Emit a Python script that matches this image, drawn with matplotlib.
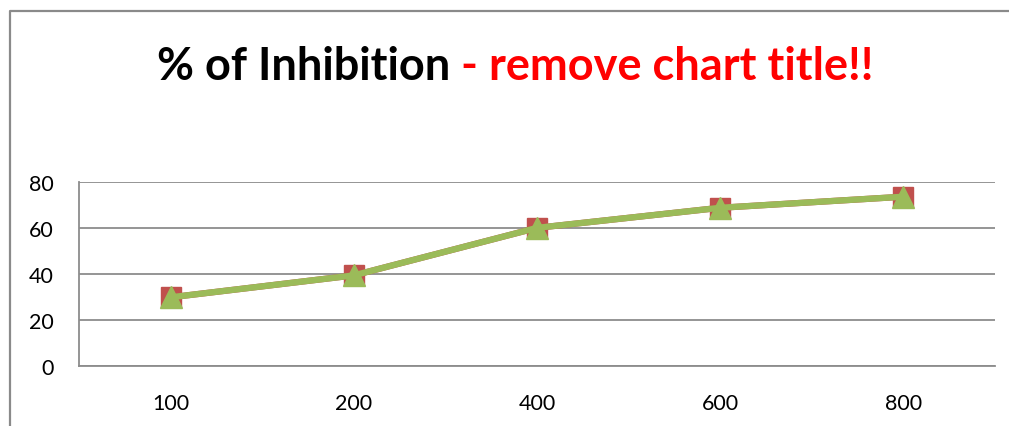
import matplotlib
matplotlib.use("Agg")
import matplotlib.pyplot as plt
from matplotlib.lines import Line2D

# concentration groups and % inhibition for the two series
doses = ["100", "200", "400", "600", "800"]
series_a = [29.9, 39.4, 60.0, 68.7, 73.5]
series_b = [29.9, 39.4, 60.0, 68.7, 73.5]
y_ticks = [0, 20, 40, 60, 80]

title_main = "% of Inhibition"
title_note = " - remove chart title!!"

RED = "#C0504D"
GREEN = "#9BBB59"
GRID = "#8C8C8C"

W, H = 1009, 427
fig = plt.figure(figsize=(W / 100, H / 100), dpi=100)
fig.patch.set_facecolor("white")

# chart frame: only left and top edges fall inside the image
fx, fy = 9.5 / W, (H - 11.7) / H
frame = Line2D([fx, fx, 1.0], [0.0, fy, fy], transform=fig.transFigure,
               color="#8A8A8A", linewidth=1.6, solid_capstyle="butt")
fig.add_artist(frame)

ax = fig.add_axes([79 / W, (H - 367.3) / H, (995 - 79) / W, (367.3 - 182.7) / H])
x = list(range(len(doses)))

ax.plot(x, series_a, color=RED, linewidth=4.5, marker="s", markersize=14,
        markerfacecolor=RED, markeredgecolor=RED, zorder=3)
ax.plot(x, series_b, color=GREEN, linewidth=4.5, marker="^", markersize=16,
        markerfacecolor=GREEN, markeredgecolor=GREEN, zorder=4)

ax.set_xlim(-0.5, len(doses) - 0.5)
ax.set_ylim(0, 80)
ax.set_yticks(y_ticks)
ax.set_xticks(x)
ax.set_xticklabels(doses)
ax.grid(axis="y", color=GRID, linewidth=1.3)
ax.set_axisbelow(True)
for s in ["top", "right"]:
    ax.spines[s].set_visible(False)
for s in ["left", "bottom"]:
    ax.spines[s].set_color(GRID)
    ax.spines[s].set_linewidth(1.3)
ax.tick_params(length=0, labelsize=15.5, colors="black")
ax.tick_params(axis="y", pad=18.5)
ax.tick_params(axis="x", pad=19)
for lab in ax.get_xticklabels() + ax.get_yticklabels():
    lab.set_family("Lato")

# two-colour title, centred as one line
fs = 32.5
t1 = fig.text(0, 0, title_main, fontsize=fs, fontweight="bold", family="Lato",
              color="black", va="baseline")
t2 = fig.text(0, 0, title_note, fontsize=fs, fontweight="bold", family="Lato",
              color="#FF0000", va="baseline")
r = fig.canvas.get_renderer()
w1 = t1.get_window_extent(r).width
w2 = t2.get_window_extent(r).width
x0 = 515.5 - (w1 + w2) / 2
base = (H - 80) / H
t1.set_position((x0 / W, base))
t2.set_position(((x0 + w1) / W, base))

fig.savefig("out.png", dpi=100)
